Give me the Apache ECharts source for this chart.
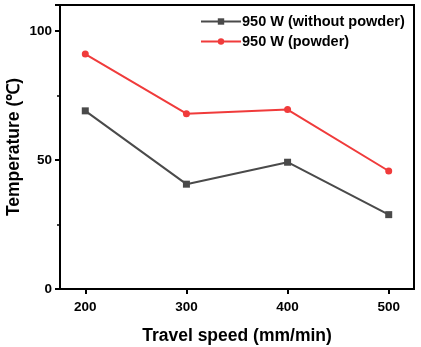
<!DOCTYPE html>
<html><head><meta charset="utf-8">
<script src="https://cdn.jsdelivr.net/npm/echarts@6/dist/echarts.min.js"></script>
<style>html,body{margin:0;padding:0;background:#fff}#c{width:421px;height:347px}</style>
</head><body><div id="c"></div>
<script>
const speeds = [200, 300, 400, 500];
const withoutPowder = [69.0, 40.6, 49.1, 28.8];
const withPowder = [91.0, 67.9, 69.5, 45.7];
const xTicks = [200, 300, 400, 500];
const seriesNames = ['950 W (without powder)', '950 W (powder)'];

const font = 'Liberation Sans, Arial, sans-serif';
const chart = echarts.init(document.getElementById('c'));
chart.setOption({
  animation: false,
  backgroundColor: '#fff',
  grid: { left: 60, right: 7, top: 5, bottom: 58, show: true, borderColor: '#000', borderWidth: 2, containLabel: false, outerBoundsMode: 'none' },
  legend: {
    left: 195, top: 9, orient: 'vertical', itemGap: 5, itemWidth: 40, itemHeight: 8,
    textStyle: { fontFamily: font, fontWeight: 'bold', fontSize: 14.5, color: '#000', padding: [0, 0, 0, -4] },
    data: seriesNames
  },
  xAxis: {
    type: 'value', min: 175, max: 525,
    name: 'Travel speed (mm/min)', nameLocation: 'middle', nameGap: 38, nameMoveOverlap: false,
    nameTextStyle: { fontFamily: font, fontWeight: 'bold', fontSize: 17.5, color: '#000' },
    axisLine: { lineStyle: { color: '#000', width: 2 } },
    axisTick: { show: true, length: 5, lineStyle: { color: '#000', width: 2 }, customValues: xTicks },
    axisLabel: { fontFamily: font, fontWeight: 'bold', fontSize: 13.5, color: '#000', margin: 11, customValues: xTicks },
    splitLine: { show: false }
  },
  yAxis: {
    type: 'value', min: 0, max: 110, interval: 50,
    name: 'Temperature (℃)', nameLocation: 'middle', nameGap: 37, nameRotate: 90, nameMoveOverlap: false,
    nameTextStyle: { fontFamily: font, fontWeight: 'bold', fontSize: 17.5, color: '#000' },
    axisLine: { show: true, lineStyle: { color: '#000', width: 2 } },
    axisTick: { show: true, length: 5, lineStyle: { color: '#000', width: 2 } },
    minorTick: { show: true, splitNumber: 2, length: 3, lineStyle: { color: '#000', width: 1.5 } },
    axisLabel: { fontFamily: font, fontWeight: 'bold', fontSize: 13.5, color: '#000', margin: 8, showMaxLabel: false },
    splitLine: { show: false }
  },
  series: [
    {
      name: seriesNames[0], type: 'line', data: speeds.map((s, i) => [s, withoutPowder[i]]),
      symbol: 'rect', symbolSize: 7, color: '#4a4a4a',
      lineStyle: { color: '#4a4a4a', width: 2 }, itemStyle: { color: '#4a4a4a' }
    },
    {
      name: seriesNames[1], type: 'line', data: speeds.map((s, i) => [s, withPowder[i]]),
      symbol: 'circle', symbolSize: 7, color: '#f03b3b',
      lineStyle: { color: '#f03b3b', width: 2 }, itemStyle: { color: '#f03b3b' }
    }
  ]
});
</script></body></html>
